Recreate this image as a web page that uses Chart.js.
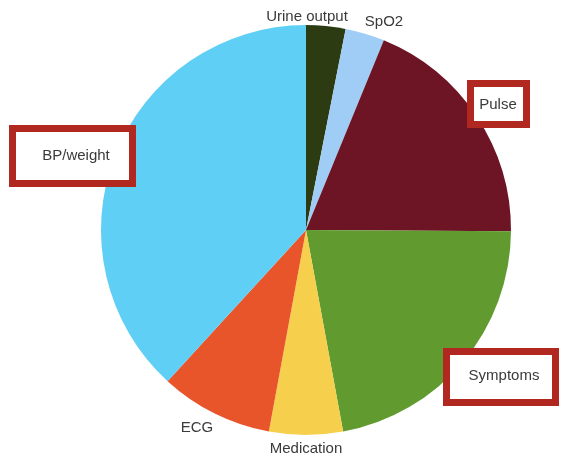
<!DOCTYPE html>
<html>
<head>
<meta charset="utf-8">
<script src="https://cdn.jsdelivr.net/npm/chart.js@4/dist/chart.umd.min.js"></script>
<style>
  html, body { margin: 0; padding: 0; background: #fff; }
  #wrap { width: 562px; height: 458px; }
</style>
</head>
<body>
<div id="wrap"><canvas id="pieChart" width="562" height="458"></canvas></div>
<script>
// share of monitoring data by type (percent)
const categories = ["Urine output", "SpO2", "Pulse", "Symptoms", "Medication", "ECG", "BP/weight"];
const shares = [3.1, 3.1, 18.9, 22.0, 5.8, 8.9, 38.2];
const colors = ["#2d3b12", "#9fcdf6", "#6d1524", "#619b30", "#f6cf4c", "#e9552b", "#60cff5"];

// where each label sits, and whether it gets a red frame
const labelSpots = [
  { x: 307, y: 17 },
  { x: 384, y: 22 },
  { x: 498, y: 105, box: [470.5, 83.5, 56, 41] },
  { x: 504, y: 376, box: [446.5, 351.5, 109, 51] },
  { x: 306, y: 449 },
  { x: 197, y: 428 },
  { x: 76, y: 156, box: [12.5, 128.5, 120, 55] }
];

const outsideLabels = {
  id: "outsideLabels",
  afterDraw(chart) {
    const ctx = chart.ctx;
    ctx.save();
    categories.forEach(function(name, i) {
      const spot = labelSpots[i];
      if (spot.box) {
        ctx.fillStyle = "#fff";
        ctx.fillRect(spot.box[0], spot.box[1], spot.box[2], spot.box[3]);
        ctx.strokeStyle = "#b0281f";
        ctx.lineWidth = 7;
        ctx.strokeRect(spot.box[0], spot.box[1], spot.box[2], spot.box[3]);
      }
      ctx.fillStyle = "#3a3a3a";
      ctx.font = "15px 'Liberation Sans', Arial, sans-serif";
      ctx.textAlign = "center";
      ctx.textBaseline = "middle";
      ctx.fillText(name, spot.x, spot.y);
    });
    ctx.restore();
  }
};

document.addEventListener("DOMContentLoaded", function() {
  const ctxPie = document.getElementById("pieChart").getContext("2d");
  new Chart(ctxPie, {
    type: "pie",
    data: {
      labels: categories,
      datasets: [{
        data: shares,
        backgroundColor: colors,
        borderWidth: 0
      }]
    },
    options: {
      responsive: false,
      animation: false,
      layout: { padding: { left: 100, right: 50, top: 25, bottom: 23 } },
      plugins: {
        legend: { display: false },
        tooltip: { enabled: false }
      }
    },
    plugins: [outsideLabels]
  });
});
</script>
</body>
</html>
